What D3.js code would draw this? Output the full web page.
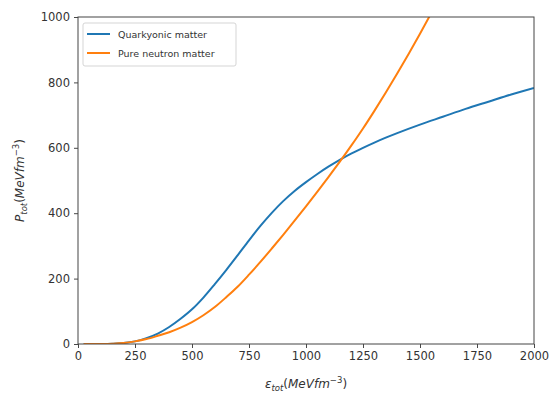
<!DOCTYPE html>
<html><head><meta charset="utf-8">
<script src="https://cdn.jsdelivr.net/npm/d3@7"></script>
<style>body{margin:0;background:#fff;} text{font-family:"DejaVu Sans",sans-serif;}</style>
</head><body>
<svg id="c" width="551" height="399"></svg>
<script>
const energy = [25,100,150,200,250,300,350,400,450,500,550,600,650,700,750,800,850,900,950,1000,1050,1100,1150,1200,1250,1300,1350,1400,1500,1600,1700,1800,1900,2000];
const quarkyonic = [0,0.3,1,3,8,18,32,52,77,106,142,183,226,271,317,361,401,437,468,495,520,543,564,583,600,616,631,645,671,695,719,741,763,783];
const neutronEnergy = [25,100,150,200,250,300,350,400,450,500,550,600,650,700,750,800,850,900,950,1000,1050,1100,1150,1200,1250,1300,1350,1400,1450,1500,1550,1600];
const neutron = [0,0.3,1,3,8,15,25,36,50,67,88,113,143,175,212,251,292,334,377,421,466,512,559,608,659,713,769,827,887,949,1013,1080];
const xTicks = [0,250,500,750,1000,1250,1500,1750,2000];
const yTicks = [0,200,400,600,800,1000];
const seriesNames = ["Quarkyonic matter","Pure neutron matter"];
const colors = ["#1f77b4","#ff7f0e"];

const svg = d3.select("#c");
const L=78, R=534, T=17, B=344;
const x = d3.scaleLinear().domain([0,2000]).range([L,R]);
const y = d3.scaleLinear().domain([0,1000]).range([B,T]);

svg.append("clipPath").attr("id","clip").append("rect")
  .attr("x",L).attr("y",T).attr("width",R-L).attr("height",B-T);

const line = d3.line().x(d=>x(d[0])).y(d=>y(d[1])).curve(d3.curveMonotoneX);
const g = svg.append("g").attr("clip-path","url(#clip)");
g.append("path").datum(energy.map((e,i)=>[e,quarkyonic[i]]))
  .attr("d",line).attr("fill","none").attr("stroke",colors[0]).attr("stroke-width",2);
g.append("path").datum(neutronEnergy.map((e,i)=>[e,neutron[i]]))
  .attr("d",line).attr("fill","none").attr("stroke",colors[1]).attr("stroke-width",2);

// axes
const xa = svg.append("g").attr("transform",`translate(0,${B})`)
  .call(d3.axisBottom(x).tickValues(xTicks).tickSize(4).tickPadding(4).tickFormat(d3.format("d")));
const ya = svg.append("g").attr("transform",`translate(${L},0)`)
  .call(d3.axisLeft(y).tickValues(yTicks).tickSize(4).tickPadding(4).tickFormat(d3.format("d")));
[xa,ya].forEach(a=>{
  a.select(".domain").remove();
  a.selectAll("line").attr("stroke","#333").attr("stroke-width",0.9);
  a.selectAll("text").attr("font-size",11.5).attr("fill","#333").attr("font-family","DejaVu Sans");
});
svg.append("rect").attr("x",L).attr("y",T).attr("width",R-L).attr("height",B-T)
  .attr("fill","none").attr("stroke","#444").attr("stroke-width",1);

// axis labels
const xl = svg.append("text").attr("x",(L+R)/2).attr("y",388).attr("text-anchor","middle")
  .attr("font-size",12).attr("fill","#333");
xl.append("tspan").attr("font-style","italic").text("ε");
xl.append("tspan").attr("font-style","italic").attr("font-size",8.5).attr("dy",3).text("tot");
xl.append("tspan").attr("dy",-3).text("(");
xl.append("tspan").attr("font-style","italic").text("MeVfm");
xl.append("tspan").attr("font-size",8.5).attr("dy",-5).text("−3");
xl.append("tspan").attr("dy",5).text(")");

const yl = svg.append("text").attr("transform",`translate(24,${(T+B)/2}) rotate(-90)`)
  .attr("text-anchor","middle").attr("font-size",12).attr("fill","#333");
yl.append("tspan").attr("font-style","italic").text("P");
yl.append("tspan").attr("font-style","italic").attr("font-size",8.5).attr("dy",3).text("tot");
yl.append("tspan").attr("dy",-3).text("(");
yl.append("tspan").attr("font-style","italic").text("MeVfm");
yl.append("tspan").attr("font-size",8.5).attr("dy",-5).text("−3");
yl.append("tspan").attr("dy",5).text(")");

// legend
const lg = svg.append("g");
lg.append("rect").attr("x",83).attr("y",23).attr("width",153).attr("height",43).attr("rx",2)
  .attr("fill","#fff").attr("fill-opacity",0.8).attr("stroke","#d5d5d5").attr("stroke-width",1);
seriesNames.forEach((n,i)=>{
  const yy = 34 + i*19;
  lg.append("line").attr("x1",87).attr("x2",110).attr("y1",yy).attr("y2",yy)
    .attr("stroke",colors[i]).attr("stroke-width",2);
  lg.append("text").attr("x",118).attr("y",yy+3.5).attr("font-size",9.5).attr("fill","#333")
    .attr("font-family","Liberation Sans Narrow, DejaVu Sans Condensed, DejaVu Sans").text(n);
});
</script>
</body></html>
